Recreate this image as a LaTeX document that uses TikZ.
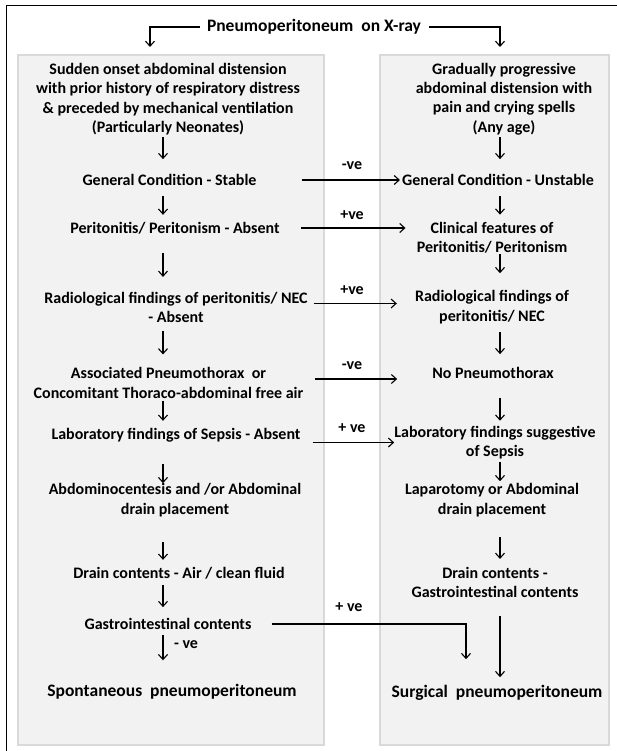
\documentclass[tikz,border=0pt]{standalone}
\usepackage{fontspec}
\setmainfont{Carlito}
\usetikzlibrary{arrows.meta}
\definecolor{boxfill}{HTML}{F2F2F2}
\definecolor{boxline}{HTML}{D9D9D9}
\begin{document}
\begin{tikzpicture}[x=1pt,y=-1pt,
		txt/.style={align=center,font=\fontsize{16}{19.4}\selectfont\bfseries,inner sep=0pt},
		big/.style={align=center,font=\fontsize{17.5}{20}\selectfont\bfseries,inner sep=0pt},
		arr/.style={-{Straight Barb[length=5pt,width=9pt]},line width=1.1pt},
		dn/.style 2 args={arr,shorten <=#1,shorten >=#2},
		box/.style={fill=boxfill,draw=boxline,line width=2.5pt}]
	\useasboundingbox (0,0) rectangle (617,751);
	\fill[white] (0,0) rectangle (617,751);
	\draw[line width=1pt] (6,751) -- (6,6) -- (617,6);
	\filldraw[box] (18,55) rectangle (324,745);
	\filldraw[box] (380,55) rectangle (609,745);

	\coordinate (lx) at (163,0);
	\coordinate (rx) at (500,0);
	\coordinate (bx) at (466,0);
	\coordinate (tl) at (150,47);
	\coordinate (tr) at (500,47);

	\node[txt,font=\fontsize{17.5}{20}\selectfont\bfseries] (title) at (314,27) {Pneumoperitoneum\ \ on X-ray};

	\node[txt] (intro) at (168,99) {Sudden onset abdominal distension\\with prior history of respiratory distress\\\& preceded by mechanical ventilation\\(Particularly Neonates)};
	\node[txt] (gcs) at (169.5,180) {General Condition - Stable};
	\node[txt] (pa) at (175,228) {Peritonitis/ Peritonism - Absent};
	\node[txt] (rad) at (176,307.5) {Radiological findings of peritonitis/ NEC\\- Absent};
	\node[txt] (assoc) at (168.5,383) {Associated Pneumothorax\ \ or\\Concomitant Thoraco-abdominal free air};
	\node[txt] (lab) at (176,435) {Laboratory findings of Sepsis - Absent};
	\node[txt] (abd) at (175,500) {Abdominocentesis and /or Abdominal\\drain placement};
	\node[txt] (drl) at (179,573) {Drain contents - Air / clean fluid};
	\node[txt] (gil) at (168,624) {Gastrointestinal contents};
	\node[big] (spont) at (172,692) {Spontaneous\ \ pneumoperitoneum};

	\node[txt] (rintro) at (504,99) {Gradually progressive\\abdominal distension with\\pain and crying spells\\(Any age)};
	\node[txt] (gcu) at (498,180) {General Condition - Unstable};
	\node[txt] (cf) at (492,237.5) {Clinical features of\\Peritonitis/ Peritonism};
	\node[txt] (rrad) at (492,307) {Radiological findings of\\peritonitis/ NEC};
	\node[txt] (nop) at (493,373) {No Pneumothorax};
	\node[txt] (rlab) at (495,442.5) {Laboratory findings suggestive\\of Sepsis};
	\node[txt] (lap) at (492,500) {Laparotomy or Abdominal\\drain placement};
	\node[txt] (rdr) at (495,582.5) {Drain contents -\\Gastrointestinal contents};
	\node[big] (surg) at (497,693) {Surgical\ \ pneumoperitoneum};

	\node[txt] (neg1) at (352,166) {-ve};
	\node[txt] (pos1) at (352,215) {+ve};
	\node[txt] (pos2) at (352,290) {+ve};
	\node[txt] (neg2) at (352,366) {-ve};
	\node[txt] (pos3) at (352,428) {+ ve};
	\node[txt] (pos4) at (349,607) {+ ve};
	\node[txt] (neg3) at (186,645) {- ve};

	\draw[arr,shorten <=7pt] (title.west) -| (tl);
	\draw[arr,shorten <=8pt] (title.east) -| (tr);

	\draw[dn={2pt}{15pt}] (intro.south -| lx) -- (gcs.north -| lx);
	\draw[dn={10pt}{7pt}] (gcs.south -| lx) -- (pa.north -| lx);
	\draw[dn={19pt}{15pt}] (pa.south -| lx) -- (rad.north -| lx);
	\draw[dn={8pt}{13pt}] (rad.south -| lx) -- (assoc.north -| lx);
	\draw[dn={2pt}{7pt}] (assoc.south -| lx) -- (lab.north -| lx);
	\draw[dn={22pt}{0pt}] (lab.south -| lx) -- (abd.north -| lx);
	\draw[dn={25pt}{7pt}] (abd.south -| lx) -- (drl.north -| lx);
	\draw[dn={6pt}{11pt}] (drl.south -| lx) -- (gil.north -| lx);
	\draw[dn={5pt}{24pt}] (gil.south -| lx) -- (spont.north -| lx);

	\draw[dn={2pt}{15pt}] (rintro.south -| rx) -- (gcu.north -| rx);
	\draw[dn={10pt}{7pt}] (gcu.south -| rx) -- (cf.north -| rx);
	\draw[dn={1pt}{17pt}] (cf.south -| rx) -- (rrad.north -| rx);
	\draw[dn={8pt}{13pt}] (rrad.south -| rx) -- (nop.north -| rx);
	\draw[dn={19pt}{5pt}] (nop.south -| rx) -- (rlab.north -| rx);
	\draw[dn={3pt}{2pt}] (rlab.south -| rx) -- (lap.north -| rx);
	\draw[dn={20pt}{8pt}] (lap.south -| rx) -- (rdr.north -| rx);
	\draw[dn={18pt}{8pt}] (rdr.south -| rx) -- (surg.north -| rx);

	\draw[arr,shorten <=45pt,shorten >=2pt] (gcs.east) -- (gcu.west);
	\draw[arr,shorten <=21pt,shorten >=11pt] (pa.east) -- (pa.east -| cf.west);
	\draw[arr,shorten <=6pt,shorten >=18pt] ([yshift=4pt]rad.east) -- ([yshift=4pt]rad.east -| rrad.west);
	\draw[arr,shorten <=11pt,shorten >=35pt] ([yshift=4pt]assoc.east) -- ([yshift=4pt]assoc.east -| nop.west);
	\draw[arr,shorten <=12pt] (rlab.west -| lab.east) -- (rlab.west);
	\draw[arr,shorten <=20pt,shorten >=26pt] (gil.east) -| (bx |- surg.north);
\end{tikzpicture}
\end{document}
